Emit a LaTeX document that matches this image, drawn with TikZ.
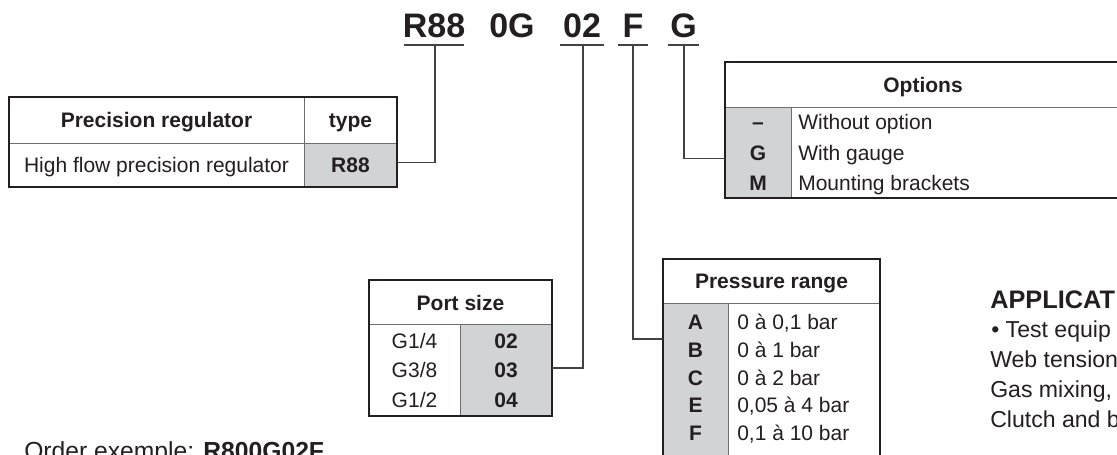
\documentclass[tikz,border=0pt]{standalone}
\usepackage{fontspec}
\setmainfont{Liberation Sans}
\usepackage{xcolor}
\definecolor{ink}{HTML}{231F20}
\definecolor{cellgrey}{HTML}{D1D3D4}
\definecolor{rule}{HTML}{6D6E71}
\newcommand{\tabfont}{\fontsize{15.75pt}{18pt}\selectfont}
\newcommand{\codefont}{\fontsize{25.5pt}{30pt}\selectfont\bfseries}
\newcommand{\appfont}{\fontsize{17.3pt}{20pt}\selectfont}

\begin{document}
\begin{tikzpicture}[x=0.75pt, y=-0.75pt, ink,
  txt/.style={inner sep=0pt, text height=11.3pt, text depth=0pt, font=\tabfont},
  hd/.style={txt, font=\tabfont\bfseries},
  lab/.style n args={2}{txt, font=\tabfont\bfseries, minimum width=#1, minimum height=#2},
  frame/.style={draw=ink, line width=1.5pt},
  sep/.style={draw=rule, line width=0.75pt},
  link/.style={draw=ink!85, line width=0.9pt},
  code/.style={inner sep=0pt, anchor=base, font=\codefont},
  para/.style={inner sep=0pt, anchor=base west, font=\appfont}]
\useasboundingbox (0,0) rectangle (1117,454);
\clip (0,0) rectangle (1117,454);

\node[code] (cR) at (434,37) {R88};
\node[code] (c0G) at (512,37) {0G};
\node[code] (c02) at (582,37) {02};
\node[code] (cF) at (633,37) {F};
\node[code] (cG) at (683.5,37) {G};
\draw[link] (404,45) -- (464,45) (560,45) -- (604,45) (618,45) -- (648,45) (668,45) -- (699,45);
\coordinate (uR) at (435,45);
\coordinate (u02) at (583,45);
\coordinate (uF) at (633,45);
\coordinate (uG) at (684,45);

\fill[cellgrey] (304,143) rectangle (397,187);
\draw[sep] (9,143) -- (397,143) (304,97) -- (304,187);
\draw[frame] (9,97) rectangle (397,187);
\node[hd] (hReg) at (156.5,120) {Precision regulator};
\node[hd] (hType) at (350.5,120) {type};
\node[txt] (dReg) at (156.5,165) {High flow precision regulator};
\node[lab={69.75pt}{33pt}] (tR) at (350.5,165) {R88};

\fill[cellgrey] (725,107) rectangle (791,198);
\draw[sep] (725,107) -- (1121,107) (791,107) -- (791,198);
\draw[frame] (725,62) rectangle (1121,198);
\node[hd] (hOpt) at (923,85) {Options};
\node[lab={49.5pt}{22.75pt}] (oN) at (758,122.2) {\textendash};
\node[lab={49.5pt}{22.75pt}] (oG) at (758,152.5) {G};
\node[lab={49.5pt}{22.75pt}] (oM) at (758,182.8) {M};
\node[txt, anchor=west] (dN) at (798,122.2) {Without option};
\node[txt, anchor=west] (dG) at (798,152.5) {With gauge};
\node[txt, anchor=west] (dM) at (798,182.8) {Mounting brackets};

\fill[cellgrey] (460,324) rectangle (552,416);
\draw[sep] (369,324) -- (552,324) (460,324) -- (460,416);
\draw[frame] (369,280) rectangle (552,416);
\node[hd] (hPort) at (460.5,303) {Port size};
\node[txt] (g14) at (414.5,340.5) {G1/4};
\node[txt] (g38) at (414.5,370) {G3/8};
\node[txt] (g12) at (414.5,399.5) {G1/2};
\node[lab={69pt}{22pt}] (p02) at (506,340.5) {02};
\node[lab={69pt}{22pt}] (p03) at (506,370) {03};
\node[lab={69pt}{22pt}] (p04) at (506,399.5) {04};

\fill[cellgrey] (663,303) rectangle (728,460);
\draw[sep] (663,303) -- (880,303) (728,303) -- (728,460);
\draw[frame] (663,259) rectangle (880,460);
\node[hd] (hPres) at (771.5,281) {Pressure range};
\node[lab={48.75pt}{20.8pt}] (pA) at (695.5,322) {A};
\node[lab={48.75pt}{20.8pt}] (pB) at (695.5,349.75) {B};
\node[lab={48.75pt}{20.8pt}] (pC) at (695.5,377.5) {C};
\node[lab={48.75pt}{20.8pt}] (pE) at (695.5,405.25) {E};
\node[lab={48.75pt}{20.8pt}] (pF) at (695.5,433) {F};
\node[txt, anchor=west] (bA) at (737,322) {0 à 0,1 bar};
\node[txt, anchor=west] (bB) at (737,349.75) {0 à 1 bar};
\node[txt, anchor=west] (bC) at (737,377.5) {0 à 2 bar};
\node[txt, anchor=west] (bE) at (737,405.25) {0,05 à 4 bar};
\node[txt, anchor=west] (bF) at (737,433) {0,1 à 10 bar};

\draw[link] (uR) |- ([yshift=2pt]tR.east);
\draw[link] (u02) |- ([yshift=1.5pt]p03.east);
\draw[link] (uF) |- ([yshift=8pt]pB.west);
\draw[link] (uG) |- ([yshift=-4.5pt]oG.west);

\node[para, font=\fontsize{19pt}{22pt}\selectfont\bfseries] (app) at (990,308) {APPLICAT};
\node[para] (app1) at (991,337) {\textbullet\ Test equip};
\node[para] (app2) at (990,367) {Web tension};
\node[para] (app3) at (990,397) {Gas mixing,};
\node[para] (app4) at (990,427) {Clutch and b};

\node[inner sep=0pt, anchor=base west, font=\fontsize{18.5pt}{21pt}\selectfont] (ord) at (24,459) {Order exemple: \textbf{R800G02F}};
\end{tikzpicture}
\end{document}
